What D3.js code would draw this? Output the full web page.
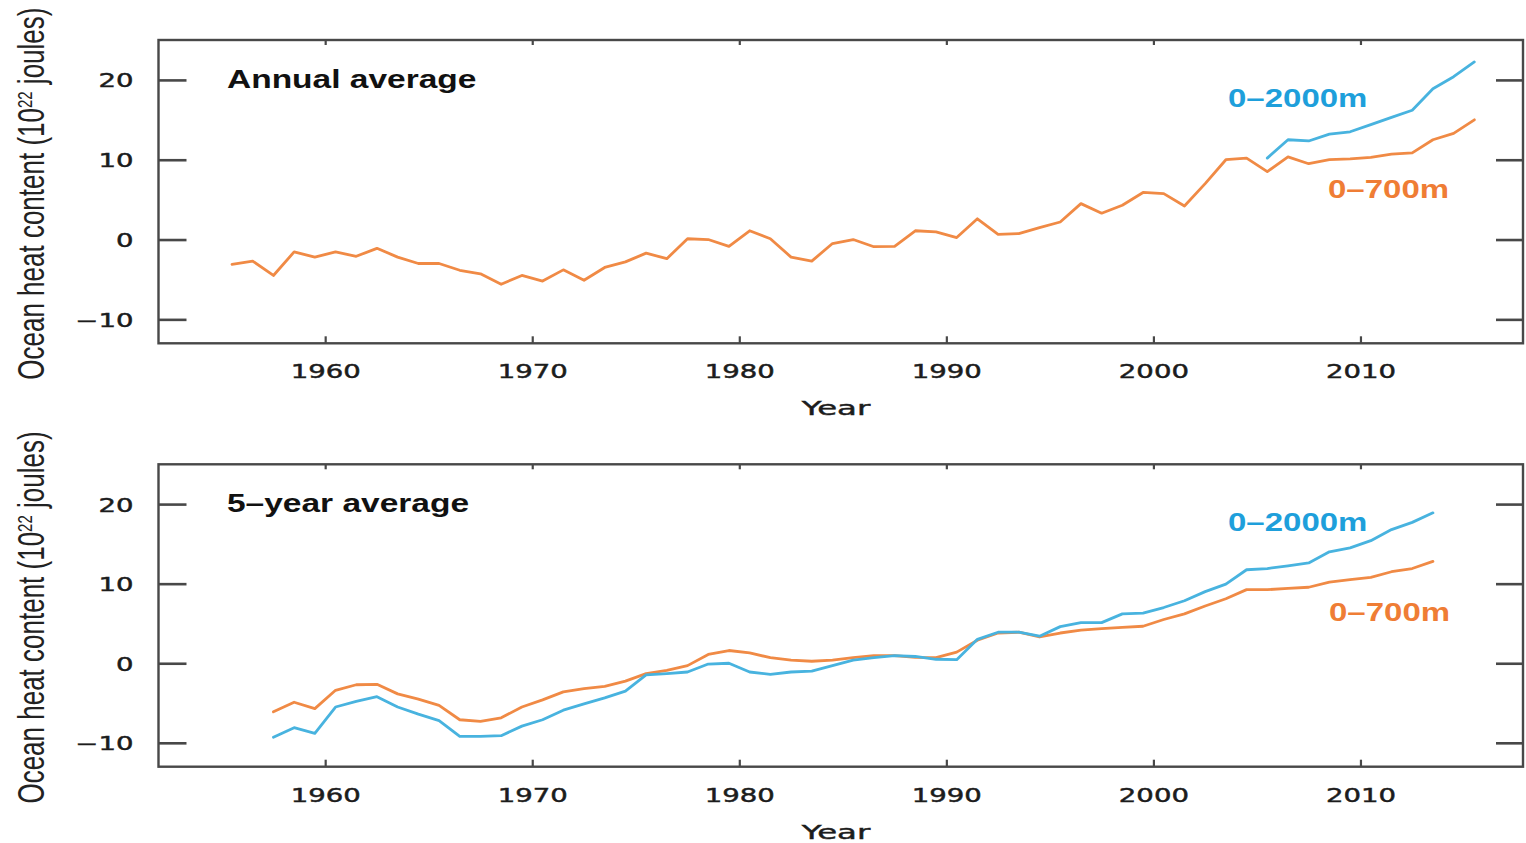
<!DOCTYPE html>
<html>
<head>
<meta charset="utf-8">
<script src="https://cdn.jsdelivr.net/npm/d3@7"></script>
<style>
  html, body { margin: 0; padding: 0; background: #fff; }
  svg { display: block; font-family: "Liberation Sans", Arial, sans-serif; }
</style>
</head>
<body>
<svg id="chart" width="1526" height="843"></svg>
<script>
// Ocean heat content anomalies, 10^22 joules

// Annual averages (mid-year)
const annualYears = d3.range(1955.5, 2016, 1);
const annual700 = [
  -3.1, -2.7, -4.5, -1.55, -2.2, -1.55, -2.1, -1.1, -2.2, -3.0,
  -3.0, -3.85, -4.3, -5.6, -4.5, -5.2, -3.8, -5.1, -3.5, -2.8,
  -1.7, -2.4, 0.1, 0.0, -0.85, 1.1, 0.1, -2.2, -2.7, -0.5,
  0.0, -0.9, -0.85, 1.1, 0.95, 0.25, 2.6, 0.65, 0.75, 1.5,
  2.2, 4.5, 3.3, 4.3, 5.9, 5.75, 4.2, 7.0, 10.0, 10.2,
  8.5, 10.35, 9.5, 10.0, 10.1, 10.3, 10.7, 10.85, 12.5, 13.3,
  15.0
];
const annual2000Years = d3.range(2005.5, 2016, 1);
const annual2000 = [10.2, 12.5, 12.35, 13.2, 13.5, 14.4, 15.3, 16.2, 18.9, 20.4, 22.25];

// Five-year running averages (centre year)
const pentadYears = d3.range(1957.5, 2014, 1);
const pentad700 = [
  -6.1, -4.9, -5.7, -3.4, -2.7, -2.65, -3.85, -4.5, -5.3, -7.1,
  -7.3, -6.85, -5.5, -4.6, -3.6, -3.2, -2.9, -2.25, -1.3, -0.9,
  -0.3, 1.1, 1.6, 1.3, 0.7, 0.4, 0.25, 0.4, 0.7, 0.95,
  0.95, 0.75, 0.7, 1.4, 2.9, 3.8, 3.9, 3.3, 3.8, 4.15,
  4.35, 4.5, 4.65, 5.5, 6.2, 7.2, 8.1, 9.25, 9.25, 9.4,
  9.55, 10.2, 10.5, 10.8, 11.5, 11.9, 12.8
];
const pentad2000 = [
  -9.3, -8.1, -8.8, -5.5, -4.8, -4.2, -5.5, -6.4, -7.2, -9.2,
  -9.2, -9.1, -7.9, -7.1, -5.9, -5.1, -4.35, -3.5, -1.45, -1.3,
  -1.1, -0.1, 0.0, -1.1, -1.4, -1.1, -1.0, -0.3, 0.4, 0.7,
  0.95, 0.85, 0.5, 0.45, 3.0, 3.9, 3.9, 3.4, 4.6, 5.1,
  5.1, 6.2, 6.3, 7.0, 7.85, 9.0, 9.95, 11.75, 11.9, 12.25,
  12.6, 14.0, 14.5, 15.4, 16.8, 17.7, 18.9
];

const yearTicks = [1960, 1970, 1980, 1990, 2000, 2010];
const valueTicks = [-10, 0, 10, 20];
const seriesNames = ["0\u2013700m", "0\u20132000m"];
const panelTitles = ["Annual average", "5\u2013year average"];

const COLOR_700 = "#f08a45";
const COLOR_2000 = "#48b3df";
const TEXT_700 = "#ef7d35";
const TEXT_2000 = "#1e9fdb";
const FRAME = "#484848";
const TICK_FONT = "'DejaVu Sans', Verdana, sans-serif";

const svg = d3.select("#chart");

const x = d3.scaleLinear().domain([1951.95, 2017.85]).range([158.5, 1523]);

// Stretched text helper: places text at (px,py), widened horizontally by sx
function label(g, px, py, txt, opts) {
  return g.append("text")
    .attr("transform", `translate(${px},${py}) scale(${opts.sx},1)`)
    .attr("text-anchor", opts.anchor || "start")
    .attr("font-size", opts.size)
    .attr("font-weight", opts.weight || "normal")
    .attr("font-family", opts.family || null)
    .attr("fill", opts.fill || "#222")
    .attr("stroke", opts.stroke ? (opts.fill || "#222") : null)
    .attr("stroke-width", opts.stroke || null)
    .text(txt);
}

function drawPanel(top, bottom, title, series) {
  const y = d3.scaleLinear().domain([-13, 25]).range([bottom, top]);
  const g = svg.append("g");

  // lines
  const line = d3.line().x(d => x(d[0])).y(d => y(d[1])).curve(d3.curveLinear);
  series.forEach(s => {
    g.append("path")
      .datum(d3.zip(s.years, s.values))
      .attr("d", line)
      .attr("fill", "none")
      .attr("stroke", s.color)
      .attr("stroke-width", 2.8)
      .attr("stroke-linejoin", "round")
      .attr("stroke-linecap", "round");
  });

  // inward tick marks on all four sides
  const axes = [
    [d3.axisLeft(y).tickValues(valueTicks).tickSizeInner(-28), `translate(${x.range()[0]},0)`],
    [d3.axisRight(y).tickValues(valueTicks).tickSizeInner(-27), `translate(${x.range()[1]},0)`],
    [d3.axisTop(x).tickValues(yearTicks).tickSizeInner(-5), `translate(0,${top})`],
    [d3.axisBottom(x).tickValues(yearTicks).tickSizeInner(-7), `translate(0,${bottom})`]
  ];
  axes.forEach(([ax, tr], i) => {
    const a = g.append("g").attr("transform", tr)
      .call(ax.tickSizeOuter(0).tickFormat(d => d < 0 ? "\u2212" + Math.abs(d) : String(d)));
    a.select(".domain").remove();
    a.selectAll(".tick line").attr("stroke", FRAME).attr("stroke-width", i < 2 ? 2.6 : 2.2);
    const texts = a.selectAll(".tick text");
    if (i === 0 || i === 3) {
      texts.attr("x", null).attr("y", null).attr("dy", null)
        .attr("transform", i === 0 ? "translate(-25,7) scale(1.45,1)" : "translate(0,35) scale(1.45,1)")
        .attr("text-anchor", i === 0 ? "end" : "middle")
        .attr("font-size", 19).attr("fill", "#1c1c1c")
        .attr("stroke", "#1c1c1c").attr("stroke-width", 0.45)
        .attr("font-family", TICK_FONT);
    } else {
      texts.remove();
    }
  });

  // frame
  g.append("rect")
    .attr("x", x.range()[0]).attr("y", top)
    .attr("width", x.range()[1] - x.range()[0]).attr("height", bottom - top)
    .attr("fill", "none").attr("stroke", FRAME).attr("stroke-width", 2.4);

  // panel title and series labels
  label(g, 227, top + 48, title, { sx: 1.34, size: 25, weight: "bold", fill: "#111" });
  series.forEach(s => {
    label(g, s.labelPos[0], s.labelPos[1], s.name, { sx: 1.32, size: 25, weight: "bold", fill: s.textColor });
  });

  // x-axis title
  label(g, 836, bottom + 72, "Year", { sx: 1.62, size: 20, anchor: "middle", family: TICK_FONT, fill: "#1c1c1c", stroke: 0.45 });

  // y-axis title (rotated)
  const cy = (top + bottom) / 2 + 2;
  const yt = g.append("text")
    .attr("transform", `translate(44,${cy}) scale(1.4,1) rotate(-90)`)
    .attr("text-anchor", "middle")
    .attr("font-size", 26)
    .attr("fill", "#222");
  yt.append("tspan").text("Ocean heat content (10");
  yt.append("tspan").attr("font-size", 15).attr("baseline-shift", "super").text("22");
  yt.append("tspan").text(" joules)");
}

drawPanel(40, 343.3, panelTitles[0], [
  { name: seriesNames[0], years: annualYears, values: annual700, color: COLOR_700, textColor: TEXT_700, labelPos: [1328, 198] },
  { name: seriesNames[1], years: annual2000Years, values: annual2000, color: COLOR_2000, textColor: TEXT_2000, labelPos: [1228, 106.5] }
]);

drawPanel(464.3, 766.7, panelTitles[1], [
  { name: seriesNames[0], years: pentadYears, values: pentad700, color: COLOR_700, textColor: TEXT_700, labelPos: [1329, 620.5] },
  { name: seriesNames[1], years: pentadYears, values: pentad2000, color: COLOR_2000, textColor: TEXT_2000, labelPos: [1228, 530.5] }
]);
</script>
</body>
</html>
